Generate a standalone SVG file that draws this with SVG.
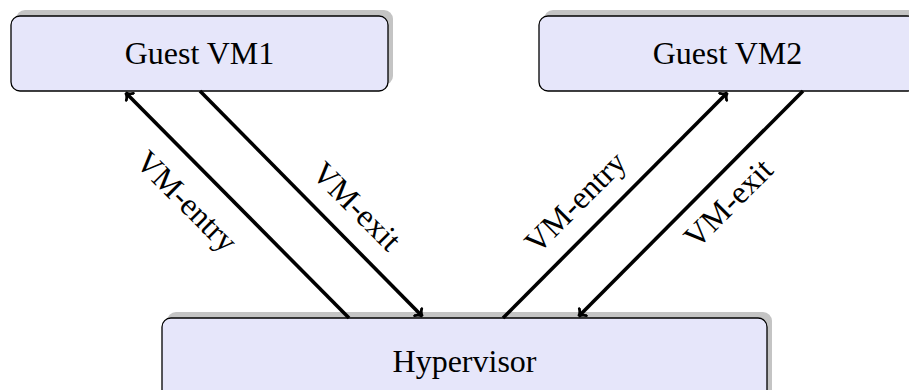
<svg xmlns="http://www.w3.org/2000/svg" width="909" height="390" viewBox="0 0 909 390">
<style>
.box{fill:#e6e6fa;stroke:#000;stroke-width:1.3}
.shadow{fill:#c4c4c4}
.lbl{font-family:"Liberation Serif","Times New Roman",serif;font-size:32px;fill:#000;text-anchor:middle;dominant-baseline:central}
.conn{stroke:#000;stroke-width:3.6;fill:none;marker-end:url(#arr)}
</style>
<defs>
<marker id="arr" viewBox="-7 -7 9 14" markerWidth="9" markerHeight="14" refX="0" refY="0" orient="auto" markerUnits="userSpaceOnUse">
<path d="M-5.5,-5 C-3.5,-1.8 -1.2,-0.4 0.5,0 C-1.2,0.4 -3.5,1.8 -5.5,5" fill="none" stroke="#000" stroke-width="2.8" stroke-linecap="round"/>
</marker>
</defs>
<g id="vm1">
<rect class="shadow" x="16" y="10" width="377" height="75" rx="9"/>
<rect class="box" x="11" y="16" width="377" height="75" rx="9"/>
<text class="lbl" x="199.5" y="53">Guest VM1</text>
</g>
<g id="vm2">
<rect class="shadow" x="544" y="10" width="377" height="75" rx="9"/>
<rect class="box" x="539" y="16" width="377" height="75" rx="9"/>
<text class="lbl" x="727.5" y="53">Guest VM2</text>
</g>
<g id="hypervisor">
<rect class="shadow" x="167" y="312" width="605" height="90" rx="9"/>
<rect class="box" x="162" y="318" width="605" height="90" rx="9"/>
<text class="lbl" x="464.5" y="361">Hypervisor</text>
</g>
<g id="connectors">
<line class="conn" x1="349" y1="318" x2="126" y2="93"/>
<line class="conn" x1="200" y1="91" x2="422" y2="316"/>
<line class="conn" x1="503" y1="318" x2="727" y2="93"/>
<line class="conn" x1="803" y1="91" x2="579" y2="316"/>
<text class="lbl" transform="translate(187,201) rotate(45)">VM-entry</text>
<text class="lbl" transform="translate(357,206) rotate(45)">VM-exit</text>
<text class="lbl" transform="translate(575,202) rotate(-45)">VM-entry</text>
<text class="lbl" transform="translate(728,203) rotate(-45)">VM-exit</text>
</g>
</svg>
